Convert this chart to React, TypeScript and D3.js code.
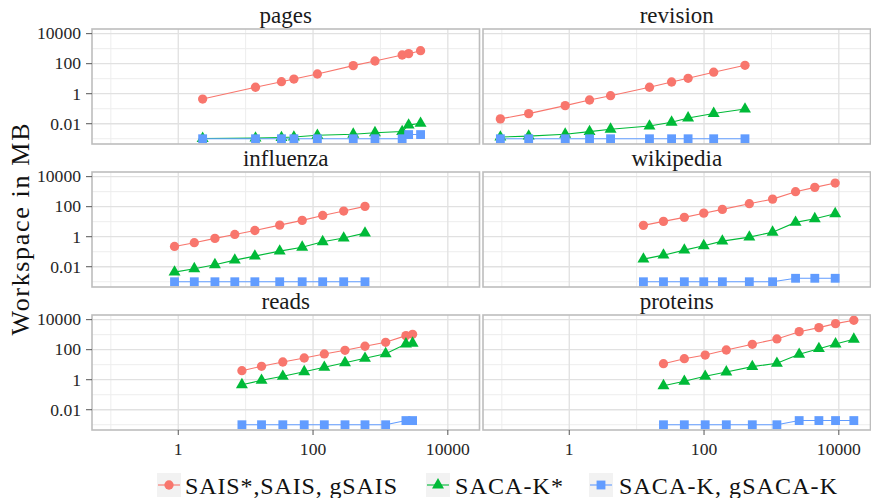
import React from "react"
import * as d3 from "d3"

const W = 871
const H = 498

const seriesNames = ["SAIS*,SAIS, gSAIS", "SACA-K*", "SACA-K, gSACA-K"]
const seriesColors = ["#F8766D", "#00BA38", "#619CFF"]
const xTicks = [1, 100, 10000]
const xTickLabels = ["1", "100", "10000"]
const yTicks = [0.01, 1, 100, 10000]
const yTickLabels = ["0.01", "1", "100", "10000"]
const xMinor = [0.1, 10, 1000]
const yMinor = [0.001, 0.1, 10, 1000]

// input sizes (MB) and workspace (MB) per data set
const pagesX = [2.3, 14, 34, 52, 116, 395, 830, 2100, 2620, 3940]
const pagesSais = [0.44, 2.7, 6.3, 9.5, 20.6, 74, 151, 380, 465, 736]
const pagesSacakStar = [0.00105, 0.0011, 0.0012, 0.0013, 0.0017, 0.002, 0.0025, 0.003, 0.0081, 0.0107]
const pagesSacak = [0.001, 0.001, 0.001, 0.001, 0.001, 0.001, 0.001, 0.001, 0.0019, 0.0019]

const revisionX = [0.095, 0.25, 0.87, 2.0, 4.1, 15.5, 33, 58, 139, 405]
const revisionSais = [0.021, 0.047, 0.16, 0.38, 0.74, 2.7, 6.0, 10.6, 27, 78]
const revisionSacakStar = [0.0013, 0.0015, 0.002, 0.003, 0.0043, 0.007, 0.0125, 0.024, 0.048, 0.095]
const revisionSacak = [0.001, 0.001, 0.001, 0.001, 0.001, 0.001, 0.001, 0.001, 0.001, 0.001]

const influenzaX = [0.88, 1.73, 3.5, 6.9, 13.7, 32, 69, 139, 285, 590]
const influenzaSais = [0.225, 0.4, 0.77, 1.42, 2.6, 5.9, 12.2, 26, 51, 105]
const influenzaSacakStar = [0.0044, 0.0074, 0.0136, 0.0275, 0.051, 0.11, 0.2, 0.46, 0.81, 1.74]
const influenzaSacak = [0.001, 0.001, 0.001, 0.001, 0.001, 0.001, 0.001, 0.001, 0.001, 0.001]

const wikipediaX = [12.6, 25, 51, 99, 187, 470, 1040, 2280, 4400, 8830]
const wikipediaSais = [5.7, 10.5, 19.4, 37, 66, 158, 320, 1000, 1940, 3740]
const wikipediaSacakStar = [0.032, 0.059, 0.128, 0.25, 0.51, 0.94, 2.0, 9.0, 15.8, 34]
const wikipediaSacak = [0.001, 0.001, 0.001, 0.001, 0.001, 0.001, 0.001, 0.0017, 0.0017, 0.0017]

const readsX = [8.8, 17.2, 35.6, 74, 147, 298, 590, 1195, 2390, 3000]
const readsSais = [4.0, 7.8, 15.1, 28, 52, 91, 169, 311, 860, 1060]
const readsSacakStar = [0.46, 0.91, 1.69, 3.4, 6.7, 13.6, 26.7, 54, 240, 267]
const readsSacak = [0.001, 0.001, 0.001, 0.001, 0.001, 0.001, 0.001, 0.001, 0.0019, 0.0019]

const proteinsX = [25, 51, 104, 214, 520, 1205, 2580, 5060, 8940, 16700]
const proteinsSais = [11.7, 25, 44, 95, 229, 517, 1585, 2930, 5410, 9120]
const proteinsSacakStar = [0.4, 0.78, 1.69, 3.26, 7.4, 12.4, 49, 117, 240, 493]
const proteinsSacak = [0.001, 0.001, 0.001, 0.001, 0.001, 0.001, 0.0019, 0.0019, 0.0019, 0.0019]

const panels = [
  { name: "pages", x: pagesX, ys: [pagesSais, pagesSacakStar, pagesSacak] },
  { name: "revision", x: revisionX, ys: [revisionSais, revisionSacakStar, revisionSacak] },
  { name: "influenza", x: influenzaX, ys: [influenzaSais, influenzaSacakStar, influenzaSacak] },
  { name: "wikipedia", x: wikipediaX, ys: [wikipediaSais, wikipediaSacakStar, wikipediaSacak] },
  { name: "reads", x: readsX, ys: [readsSais, readsSacakStar, readsSacak] },
  { name: "proteins", x: proteinsX, ys: [proteinsSais, proteinsSacakStar, proteinsSacak] },
]

const colLeft = [92, 483]
const rowTop = [29, 172, 315]
const pw = 387.5
const ph = 115

const font = "Liberation Serif"

const symbolTypes = [d3.symbolCircle, d3.symbolTriangle, d3.symbolSquare]
const symbolSizes = [68, 62, 78]
const symbolPath = (i: number) => d3.symbol().type(symbolTypes[i]).size(symbolSizes[i])() as string

// legend layout
const legendKeyX = [157, 426, 589]
const legendTextX = [185, 455, 619]
const legendTextLen = [212, 108, 218]

export default function App() {
  const x = d3.scaleLog().domain([Math.pow(10, -1.28), Math.pow(10, 4.47)]).range([0, pw])
  const y = d3.scaleLog().domain([Math.pow(10, -3.35), Math.pow(10, 4.31)]).range([ph, 0])

  const line = (xs: number[], ys: number[]) =>
    d3.line<number>().x((_, i) => x(xs[i])).y(d => y(d))(ys) as string

  return (
    <svg width={W} height={H} style={{ position: "absolute", left: 0, top: 0 }} fontFamily={font}>
      <rect width={W} height={H} fill="#fff" />
      {panels.map((p, pi) => {
        const col = pi % 2
        const row = Math.floor(pi / 2)
        const left = colLeft[col]
        const top = rowTop[row]
        return (
          <g key={p.name} transform={`translate(${left},${top})`}>
            <text x={pw / 2} y={-6} textAnchor="middle" fontSize={23} fill="#1a1a1a">{p.name}</text>
            <rect width={pw} height={ph} fill="#fff" />
            {xMinor.map(t => (
              <line key={"xm" + t} x1={x(t)} x2={x(t)} y1={0} y2={ph} stroke="#ededed" strokeWidth={1} />
            ))}
            {yMinor.map(t => (
              <line key={"ym" + t} x1={0} x2={pw} y1={y(t)} y2={y(t)} stroke="#ededed" strokeWidth={1} />
            ))}
            {xTicks.map(t => (
              <line key={"xg" + t} x1={x(t)} x2={x(t)} y1={0} y2={ph} stroke="#e1e1e1" strokeWidth={1.3} />
            ))}
            {yTicks.map(t => (
              <line key={"yg" + t} x1={0} x2={pw} y1={y(t)} y2={y(t)} stroke="#e1e1e1" strokeWidth={1.3} />
            ))}
            {p.ys.map((ys, si) => (
              <path key={"l" + si} d={line(p.x, ys)} fill="none" stroke={seriesColors[si]} strokeWidth={1.1} />
            ))}
            {p.ys.map((ys, si) =>
              ys.map((v, i) => (
                <path
                  key={"p" + si + "-" + i}
                  d={symbolPath(si)}
                  transform={`translate(${x(p.x[i])},${y(v)})`}
                  fill={seriesColors[si]}
                />
              ))
            )}
            <rect width={pw} height={ph} fill="none" stroke="#bdbdbd" strokeWidth={1.6} />
            {col === 0 &&
              yTicks.map((t, i) => (
                <g key={"yt" + t} transform={`translate(0,${y(t)})`}>
                  <line x1={-6} x2={0} stroke="#555" strokeWidth={1} />
                  <text x={-11} dy="0.33em" textAnchor="end" fontSize={17.6} fill="#262626">{yTickLabels[i]}</text>
                </g>
              ))}
            {row === 2 &&
              xTicks.map((t, i) => (
                <g key={"xt" + t} transform={`translate(${x(t)},${ph})`}>
                  <line y1={0} y2={5} stroke="#555" strokeWidth={1} />
                  <text y={25} textAnchor="middle" fontSize={17.6} fill="#262626">{xTickLabels[i]}</text>
                </g>
              ))}
          </g>
        )
      })}
      <text
        transform={`translate(29,${(rowTop[0] + rowTop[2] + ph) / 2}) rotate(-90)`}
        textAnchor="middle"
        fontSize={26}
        fill="#111"
        textLength={212}
        lengthAdjust="spacing"
      >
        Workspace in MB
      </text>
      {seriesNames.map((s, si) => (
        <g key={s}>
          <rect x={legendKeyX[si]} y={473} width={24} height={24} fill="#f2f2f2" />
          <line x1={legendKeyX[si] + 1} x2={legendKeyX[si] + 23} y1={485} y2={485} stroke={seriesColors[si]} strokeWidth={1.1} />
          <path d={symbolPath(si)} transform={`translate(${legendKeyX[si] + 12},485)`} fill={seriesColors[si]} />
          <text x={legendTextX[si]} y={494} fontSize={24} fill="#111" textLength={legendTextLen[si]} lengthAdjust="spacing">
            {s}
          </text>
        </g>
      ))}
    </svg>
  )
}
